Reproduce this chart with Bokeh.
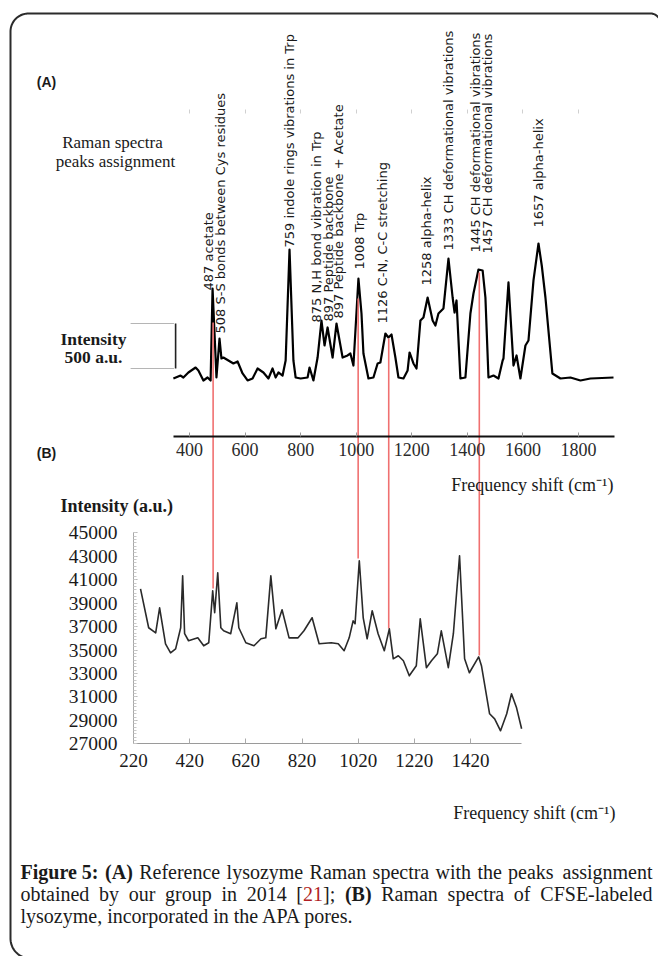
import numpy as np
from bokeh.plotting import figure
from bokeh.models import Range1d, LinearAxis, FixedTicker, ColumnDataSource
from bokeh.core.properties import value
from bokeh.embed import file_html
from bokeh.resources import INLINE

# ---------------- data ----------------
# Panel A: reference lysozyme Raman spectrum (relative intensity, a.u.)
a_wavenumber = [342, 368, 378, 396, 422, 432, 450, 465, 476, 483,
                497, 508, 515, 522, 540, 558, 573, 591, 609, 627,
                645, 666, 684, 699, 710, 720, 735, 746, 760, 774,
                782, 800, 825, 832, 846, 861, 875, 886, 897, 915,
                929, 951, 969, 979, 990, 1008, 1019, 1026, 1044, 1062,
                1077, 1087, 1105, 1116, 1127, 1141, 1152, 1170, 1185, 1192,
                1206, 1217, 1231, 1242, 1257, 1275, 1285, 1296, 1314, 1332,
                1347, 1354, 1361, 1375, 1393, 1411, 1422, 1440, 1455, 1465,
                1476, 1494, 1512, 1527, 1530, 1548, 1566, 1577, 1591, 1609,
                1620, 1638, 1656, 1668, 1681, 1706, 1735, 1771, 1807, 1843, 1926]
a_intensity = [0, 33, 11, 67, 122, 89, -22, 11, -22, 1000,
               11, 444, 222, 233, 200, 167, 189, 56, -22, 0,
               111, 67, 0, 111, 11, 67, 33, 200, 1433, 200,
               11, 0, 11, 122, -22, 233, 644, 367, 567, 233,
               611, 233, 256, 278, 144, 1111, 722, 278, 0, 11,
               167, 178, 500, 456, 489, 233, 11, 0, 89, 289,
               167, 111, 644, 678, 900, 644, 589, 722, 778, 1333,
               900, 733, 867, 0, 11, 722, 944, 1211, 1200, 900,
               11, 33, 0, 200, 222, 1067, 144, 256, 0, 367,
               422, 1090, 1500, 1250, 900, 56, 0, 11, -22, 0, 11]
a_ticks = [400, 600, 800, 1000, 1200, 1400, 1600, 1800]
a_axis_bounds = (342, 1929)

# peak assignment labels (anchor wavenumber, intensity at the label's start)
peak_label_wavenumber = [468, 512, 760, 857, 900, 936, 1012, 1095, 1253, 1332, 1429, 1472, 1656]
peak_label_base = [978, 500, 1456, 622, 633, 667, 1211, 611, 1033, 1422, 1400, 1389, 1678]
peak_labels = ["487 acetate",
               "508  S-S bonds between Cys residues",
               "759 indole rings vibrations in Trp",
               "875 N,H bond vibration in Trp",
               "897  Peptide backbone",
               "897  Peptide backbone + Acetate",
               "1008 Trp",
               "1126  C-N, C-C stretching",
               "1258 alpha-helix",
               "1333 CH deformational vibrations",
               "1445 CH deformational vibrations",
               "1457 CH deformational vibrations",
               "1657 alpha-helix"]

# intensity scale bar of panel A (a.u.)
scale_bar_wavenumber = 350
scale_bar_left = 188
scale_bar_low = 111
scale_bar_size = 500

# Panel B: CFSE-labeled lysozyme in APA pores
b_wavenumber = [245, 274, 299, 313, 334, 352, 370, 388, 395, 402,
                416, 449, 470, 488, 502, 509, 520, 531, 541, 566,
                588, 595, 620, 649, 674, 691, 709, 727, 749, 774,
                806, 827, 856, 881, 924, 949, 970, 988, 1002, 1009,
                1024, 1038, 1052, 1070, 1091, 1113, 1131, 1145, 1163, 1181,
                1202, 1227, 1241, 1263, 1281, 1302, 1316, 1341, 1359, 1381,
                1399, 1416, 1449, 1459, 1488, 1506, 1527, 1549, 1566, 1584,
                1602]
b_intensity = [40220, 36900, 36470, 38600, 35530, 34760, 35100, 36900, 41330, 36390,
               35790, 36040, 35360, 35620, 40050, 38180, 41590, 36900, 36640, 36390,
               39030, 36900, 35620, 35360, 35960, 36040, 41330, 36810, 38430, 36040,
               36040, 36640, 37750, 35530, 35620, 35530, 34940, 36040, 37490, 37240,
               42610, 37750, 35960, 38350, 36390, 34940, 36810, 34250, 34510, 34080,
               32800, 33660, 37660, 33490, 34080, 34680, 36640, 33490, 36390, 43040,
               34250, 33060, 34420, 33660, 29560, 29130, 28110, 29560, 31270, 30070,
               28280]
b_xticks = [220, 420, 620, 820, 1020, 1220, 1420]
b_yticks = [27000, 29000, 31000, 33000, 35000, 37000, 39000, 41000, 43000, 45000]
b_x_bounds = (220, 1602)
b_y_bounds = (27000, 45000)

# red guide lines linking peaks of A to B
link_wavenumber = [485, 1007, 1117, 1443]
link_top_a = [622, 889, 444, 1178]
link_bottom_b = [40250, 42810, 36840, 34530]

# ---------------- layout helpers (page pixel geometry) ----------------
W, H = 658, 956
PL, PR, PT, PB = 0, W, 0, H


def span(pa, va, pb, vb, p_start, p_end):
    k = (vb - va) / (pb - pa)
    return Range1d(start=va + (p_start - pa) * k, end=va + (p_end - pa) * k)


def to_page(rng, p_start, p_end, v):
    return p_start + (v - rng.start) / (rng.end - rng.start) * (p_end - p_start)


def from_page(rng, p_start, p_end, pg):
    return rng.start + (pg - p_start) / (p_end - p_start) * (rng.end - rng.start)


xa = span(189, 400, 578, 1800, PL, PR)
ya = span(378, 0, 333, 500, PB, PT)
xb = span(133, 220, 470, 1420, PL, PR)
yb = span(743.3, 27000, 532.3, 45000, PB, PT)

p = figure(width=W, height=H, output_backend="svg", toolbar_location=None,
           x_range=Range1d(PL, PR), y_range=Range1d(PB, PT),
           x_axis_type=None, y_axis_type=None, min_border=0, title=None)
p.outline_line_color = None
p.background_fill_color = "white"
p.border_fill_color = "white"
p.extra_x_ranges = {"xa": xa, "xb": xb}
p.extra_y_ranges = {"ya": ya, "yb": yb}

SERIF = value("Liberation Serif")

# ---------------- rounded frame ----------------
th1 = np.linspace(np.pi / 2, np.pi, 24)
bx = 30 + 20 * np.cos(th1)
by = 938 + 20 * np.sin(th1)
th2 = np.linspace(np.pi, np.pi / 2, 24)
tx = 28 + 18 * np.cos(th2)
ty = 31 - 18 * np.sin(th2)
th3 = np.linspace(np.pi / 2, 0, 12)
rx = 650 + 10 * np.cos(th3)
ry = 23 - 10 * np.sin(th3)
fx = np.concatenate([bx, tx, rx])
fy = np.concatenate([by, ty, ry])
p.line(fx, fy, line_color="#2b2b2b", line_width=2)

# ---------------- panel A ----------------
p.line(a_wavenumber, a_intensity, x_range_name="xa", y_range_name="ya",
       line_color="black", line_width=2.2, line_join="round")

lab_src = ColumnDataSource(dict(x=peak_label_wavenumber, y=peak_label_base, text=peak_labels))
p.text(x="x", y="y", text="text", source=lab_src, x_range_name="xa", y_range_name="ya",
       angle=np.pi / 2, text_align="left", text_baseline="middle",
       text_font=value("DejaVu Sans"), text_font_size="13px", text_color="#1a1a1a")

# scale bar
p.segment(x0=[scale_bar_left, scale_bar_left], x1=[scale_bar_wavenumber - 6, scale_bar_wavenumber - 6],
          y0=[scale_bar_low, scale_bar_low + scale_bar_size],
          y1=[scale_bar_low, scale_bar_low + scale_bar_size],
          x_range_name="xa", y_range_name="ya", line_color="#b5b5b5", line_width=1)
p.segment(x0=[scale_bar_wavenumber], x1=[scale_bar_wavenumber], y0=[scale_bar_low],
          y1=[scale_bar_low + scale_bar_size], x_range_name="xa", y_range_name="ya",
          line_color="#222", line_width=1.6)

# red links
link_bottom_a = [from_page(ya, PB, PT, to_page(yb, PB, PT, v)) for v in link_bottom_b]
p.segment(x0=link_wavenumber, x1=link_wavenumber, y0=link_top_a, y1=link_bottom_a,
          x_range_name="xa", y_range_name="ya", line_color="#f07070", line_width=1.6)

axA = LinearAxis(x_range_name="xa", y_range_name="ya",
                 fixed_location=from_page(ya, PB, PT, 436),
                 ticker=FixedTicker(ticks=a_ticks, minor_ticks=[]), bounds=a_axis_bounds)
axA.axis_line_color = "#111"
axA.axis_line_width = 2
axA.major_tick_in = 4
axA.major_tick_out = 0
axA.major_tick_line_color = "#999"
axA.minor_tick_line_color = None
axA.major_label_standoff = 6
axA.major_label_text_font = "Liberation Serif"
axA.major_label_text_font_size = "18px"
axA.major_label_text_color = "#2a2a2a"
p.add_layout(axA, "below")

axA_top = LinearAxis(x_range_name="xa", y_range_name="ya",
                     fixed_location=from_page(ya, PB, PT, 110),
                     ticker=FixedTicker(ticks=a_ticks, minor_ticks=[]))
axA_top.axis_line_color = None
axA_top.major_tick_in = 3
axA_top.major_tick_out = 1
axA_top.major_tick_line_color = "#d0d0d0"
axA_top.minor_tick_line_color = None
axA_top.major_label_text_color = None
p.add_layout(axA_top, "above")

# ---------------- panel B ----------------
p.line(b_wavenumber, b_intensity, x_range_name="xb", y_range_name="yb",
       line_color="#2a2a2a", line_width=1.6, line_join="round")

axBx = LinearAxis(x_range_name="xb", y_range_name="yb", fixed_location=b_y_bounds[0],
                  ticker=FixedTicker(ticks=b_xticks, minor_ticks=[]), bounds=b_x_bounds)
axBx.axis_line_color = "#9a9a9a"
axBx.axis_line_width = 1
axBx.major_tick_in = 5
axBx.major_tick_out = 0
axBx.major_tick_line_color = "#aaa"
axBx.minor_tick_line_color = None
axBx.major_label_standoff = 10
axBx.major_label_text_font = "Liberation Serif"
axBx.major_label_text_font_size = "19px"
axBx.major_label_text_color = "#1a1a1a"
p.add_layout(axBx, "below")

axBy = LinearAxis(x_range_name="xb", y_range_name="yb", fixed_location=b_x_bounds[0],
                  ticker=FixedTicker(ticks=b_yticks,
                                     minor_ticks=list(np.arange(b_y_bounds[0], b_y_bounds[1] + 1, 2000 / 7))),
                  bounds=b_y_bounds)
axBy.axis_line_color = "#a8a8a8"
axBy.axis_line_width = 1
axBy.major_tick_in = 4
axBy.major_tick_out = 0
axBy.minor_tick_in = 3
axBy.minor_tick_out = 0
axBy.major_tick_line_color = "#b0b0b0"
axBy.minor_tick_line_color = "#c8c8c8"
axBy.major_label_standoff = 16
axBy.major_label_text_font = "Liberation Serif"
axBy.major_label_text_font_size = "19.5px"
axBy.major_label_text_color = "#1a1a1a"
p.add_layout(axBy, "left")

# ---------------- free texts (page coordinates) ----------------
def txt(x, y, s, size="17px", bold=False, align="left", color="#1a1a1a", font=SERIF):
    p.text(x=[x], y=[y], text=[s], text_font=font, text_font_size=size,
           text_font_style="bold" if bold else "normal", text_align=align,
           text_baseline="middle", text_color=color)

txt(46, 81, "(A)", size="14px", bold=True, align="center", font=value("Liberation Sans"))
txt(112, 142, "Raman spectra", size="17px", align="center")
txt(115, 161, "peaks assignment", size="17px", align="center")
txt(93, 338, "Intensity", size="17.5px", bold=True, align="center")
txt(93, 356, "500 a.u.", size="17.5px", bold=True, align="center")
txt(613, 484, "Frequency shift (cm\u207b\u00b9)", size="18px", align="right")

txt(46, 452, "(B)", size="14px", bold=True, align="center", font=value("Liberation Sans"))
txt(60, 505, "Intensity (a.u.)", size="18px", bold=True)
txt(615, 812, "Frequency shift (cm\u207b\u00b9)", size="18px", align="right")

# caption
CAP = "20px"
line1 = [("Figure 5:", 20, True), ("(A)", 104.6, True), ("Reference", 138.7, False),
         ("lysozyme", 226.1, False), ("Raman", 309.1, False), ("spectra", 372.1, False),
         ("with", 435.0, False), ("the", 476.9, False), ("peaks", 507.6, False)]
for s, x, b in line1:
    txt(x, 871, s, size=CAP, bold=b)
txt(652, 871, "assignment", size=CAP, align="right")

line2 = [("obtained", 20, False), ("by", 98.6, False), ("our", 128.2, False),
         ("group", 164.6, False), ("in", 220.9, False), ("2014", 246.2, False),
         ("[", 295.8, False), ("(B)", 344.4, True), ("Raman", 380.7, False),
         ("spectra", 447.1, False), ("of", 513.3, False)]
for s, x, b in line2:
    txt(x, 893, s, size=CAP, bold=b)
txt(302.5, 893, "21", size=CAP, color="#b01e23")
txt(322.5, 893, "];", size=CAP)
txt(652, 893, "CFSE-labeled", size=CAP, align="right")
txt(20, 915, "lysozyme, incorporated in the APA pores.", size=CAP)

open("out.html", "w").write(file_html(p, INLINE))
